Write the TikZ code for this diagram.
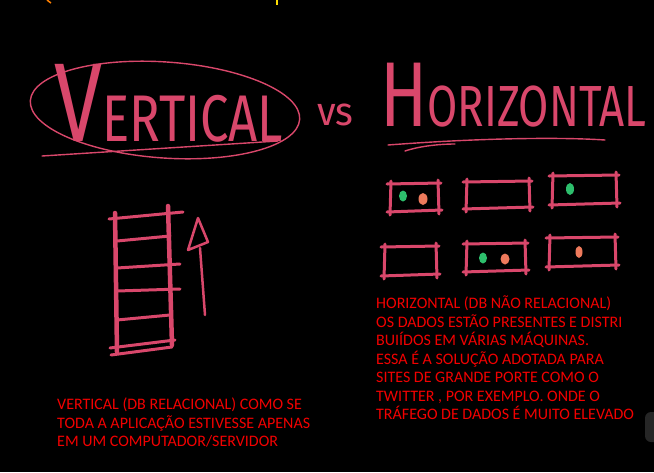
\documentclass[tikz,border=0pt]{standalone}
\usepackage{fontspec}
\usetikzlibrary{calc}
\setmainfont{Carlito}
\newfontfamily\handfont{Fira Sans}
\definecolor{pinkred}{HTML}{D9476B}
\definecolor{txtred}{HTML}{F20000}
\definecolor{dotgreen}{HTML}{2DBE6C}
\definecolor{dotorange}{HTML}{EE7A5C}
\begin{document}
\begin{tikzpicture}[x=1pt,y=-1pt,
  pen/.style={draw=pinkred,line width=3pt,line cap=round,line join=round},
  thinpen/.style={draw=pinkred,line width=1.4pt,line cap=round},
  hand/.style={text=pinkred,inner sep=0pt,font=\handfont},
  para/.style={text=txtred,inner sep=0pt,align=left,font=\fontsize{16}{18.5}\selectfont},
  gdot/.style={fill=dotgreen,draw=none},
  odot/.style={fill=dotorange,draw=none}]
\fill[black] (0,0) rectangle (654,472);
\useasboundingbox (0,0) rectangle (654,472);
% tiny marks at top
\draw[orange,line width=1.5pt] (47,0) -- (51,3);
\draw[yellow!80!orange,line width=1.5pt] (277,0) -- (277,5);
% title
\node[hand,anchor=south west] (vtitle) at (54,142) {\scalebox{0.77}[1]{\fontsize{112}{112}\selectfont V\fontsize{66}{66}\selectfont ERTICAL}};
\node[hand,anchor=south west] (vs) at (317,126) {\scalebox{0.95}[1]{\fontsize{40}{40}\selectfont vs}};
\node[hand,anchor=south west] (htitle) at (380,127) {\scalebox{0.755}[1]{\fontsize{92}{92}\selectfont H\fontsize{58}{58}\selectfont ORIZONTAL}};
\draw[thinpen,rotate around={-4:(165,110)}] (165,110) ellipse [x radius=135, y radius=48];
\draw[thinpen] (42,156) .. controls (120,151) and (200,146) .. (278,141);
\draw[thinpen] (388,145) .. controls (480,138) and (560,137) .. (605,140);
\draw[thinpen] (405,151) .. controls (420,146) and (440,144) .. (455,144);
% servers
\foreach \n/\x/\y/\w/\h in {s1/390/184/48/28, s2/466/182/63/27, s3/552/176/64/29, s4/384/247/52/29, s5/466/244/59/28, s6/549/238/66/29} {
  \coordinate (\n) at (\x,\y);
  \draw[pen] ($(\n)+(-3,0)$) -- ($(\n)+(\w+3,-1)$);
  \draw[pen] ($(\n)+(-3,\h)$) -- ($(\n)+(\w+4,\h-2)$);
  \draw[pen] ($(\n)+(1,-3)$) -- ($(\n)+(0,\h+3)$);
  \draw[pen] ($(\n)+(\w,-4)$) -- ($(\n)+(\w+1,\h+2)$);
}
\fill[gdot] (403,196) ellipse [x radius=4, y radius=5.5];
\fill[odot] (423,199) ellipse [x radius=4.5, y radius=6];
\fill[gdot] (570,189) ellipse [x radius=4, y radius=6];
\fill[gdot] (483,258) ellipse [x radius=4, y radius=5.5];
\fill[odot] (505,259) ellipse [x radius=4.5, y radius=5.5];
\fill[odot] (579,252) ellipse [x radius=3.5, y radius=6];
% ladder (vertical scaling)
\coordinate (lt) at (115,213);
\coordinate (lb) at (117,352);
\coordinate (rt) at (168,206);
\coordinate (rb) at (172,345);
\draw[pen,line width=4.5pt] (lt) -- (lb);
\draw[pen,line width=4.5pt] (rt) -- (rb);
\draw[pen] (109,219) -- (183,212);
\draw[pen] (117,241) -- (170,236);
\draw[pen] (117,268) -- (180,264);
\draw[pen] (117,291) -- (180,289);
\draw[pen] (117,320) -- (170,315);
\draw[pen] (110,348) -- (175,340);
\draw[pen] (111,355) -- (172,347);
% arrow
\coordinate (atip) at (198,218);
\coordinate (abase) at (205,315);
\draw[pen,line width=2.5pt] (abase) -- (200,248);
\draw[pen,line width=2.5pt] (188,250) -- (208,242) -- (atip) -- cycle;
% texts
\node[para,anchor=north west] (htext) at (376,296) {HORIZONTAL (DB N\~AO RELACIONAL)\\OS DADOS EST\~AO PRESENTES E DISTRI\\BUI\'IDOS EM V\'ARIAS M\'AQUINAS.\\ESSA \'E A SOLU\c{C}\~AO ADOTADA PARA\\SITES DE GRANDE PORTE COMO O\\TWITTER , POR EXEMPLO. ONDE O\\TR\'AFEGO DE DADOS \'E MUITO ELEVADO};
\node[para,anchor=north west] (vtext) at (57,398) {VERTICAL (DB RELACIONAL) COMO SE\\TODA A APLICA\c{C}\~AO ESTIVESSE APENAS\\EM UM COMPUTADOR/SERVIDOR};
% ui element bottom right
\fill[fill=black!70!gray,rounded corners=6pt] (645,412) rectangle (664,442);
\end{tikzpicture}
\end{document}
